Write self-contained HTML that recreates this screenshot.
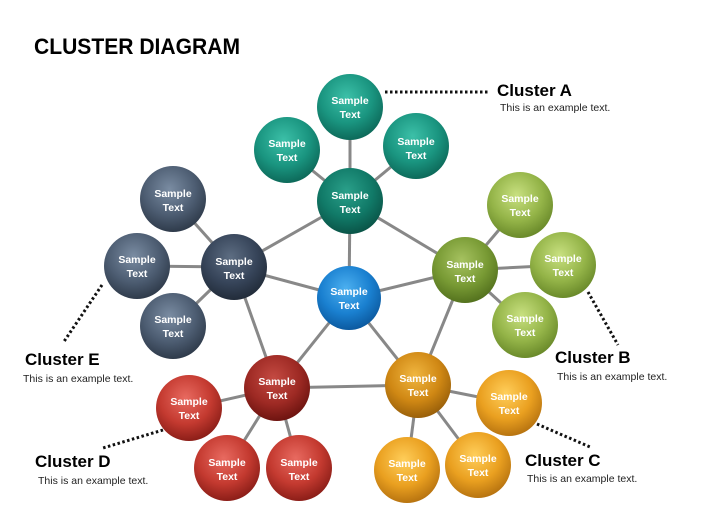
<!DOCTYPE html>
<html><head><meta charset="utf-8"><style>
html,body{margin:0;padding:0;background:#fff;}
svg{display:block;}
.n{font-family:"Liberation Sans",sans-serif;font-weight:bold;font-size:10.5px;fill:#fff;text-anchor:middle;}
.h{font-family:"Liberation Sans",sans-serif;font-weight:bold;font-size:17px;fill:#000;}
.s{font-family:"Liberation Sans",sans-serif;font-size:10.5px;fill:#222;}
</style></head><body>
<svg width="703" height="527" viewBox="0 0 703 527" xmlns="http://www.w3.org/2000/svg">
<defs>
<radialGradient id="gt" cx="45%" cy="35%" r="65%"><stop offset="0" stop-color="#3cc0a8"/><stop offset="0.6" stop-color="#1a9580"/><stop offset="1" stop-color="#0d6a5a"/></radialGradient>
<radialGradient id="gtd" cx="45%" cy="35%" r="65%"><stop offset="0" stop-color="#2aa08a"/><stop offset="0.6" stop-color="#117a68"/><stop offset="1" stop-color="#0a5548"/></radialGradient>
<radialGradient id="gs" cx="45%" cy="35%" r="65%"><stop offset="0" stop-color="#7a8ca2"/><stop offset="0.6" stop-color="#4d5d72"/><stop offset="1" stop-color="#2f3b4b"/></radialGradient>
<radialGradient id="gsd" cx="45%" cy="35%" r="65%"><stop offset="0" stop-color="#5d6d82"/><stop offset="0.6" stop-color="#37455a"/><stop offset="1" stop-color="#222c3a"/></radialGradient>
<radialGradient id="gg" cx="45%" cy="35%" r="65%"><stop offset="0" stop-color="#c8e080"/><stop offset="0.6" stop-color="#94b448"/><stop offset="1" stop-color="#6a8a2a"/></radialGradient>
<radialGradient id="ggd" cx="45%" cy="35%" r="65%"><stop offset="0" stop-color="#a6c260"/><stop offset="0.6" stop-color="#789a34"/><stop offset="1" stop-color="#54721e"/></radialGradient>
<radialGradient id="go" cx="45%" cy="35%" r="65%"><stop offset="0" stop-color="#ffce5a"/><stop offset="0.6" stop-color="#eaa020"/><stop offset="1" stop-color="#b87410"/></radialGradient>
<radialGradient id="god" cx="45%" cy="35%" r="65%"><stop offset="0" stop-color="#f0b640"/><stop offset="0.6" stop-color="#d08814"/><stop offset="1" stop-color="#9a600a"/></radialGradient>
<radialGradient id="gr" cx="45%" cy="35%" r="65%"><stop offset="0" stop-color="#e86a60"/><stop offset="0.6" stop-color="#c43a30"/><stop offset="1" stop-color="#8c1e18"/></radialGradient>
<radialGradient id="grd" cx="45%" cy="35%" r="65%"><stop offset="0" stop-color="#c44a42"/><stop offset="0.6" stop-color="#9e2a24"/><stop offset="1" stop-color="#6e1410"/></radialGradient>
<radialGradient id="gb" cx="45%" cy="35%" r="65%"><stop offset="0" stop-color="#4cb0f0"/><stop offset="0.6" stop-color="#1a80d0"/><stop offset="1" stop-color="#0c5aa0"/></radialGradient>
</defs>
<text x="34" y="54" font-family="Liberation Sans,sans-serif" font-weight="bold" font-size="22" textLength="206" lengthAdjust="spacingAndGlyphs">CLUSTER DIAGRAM</text>
<g stroke="#888" stroke-width="3" fill="none">
<polyline points="350,201 465,270 418,385 277,388 234,267 350,201"/>
<line x1="349" y1="298" x2="350" y2="201"/><line x1="349" y1="298" x2="465" y2="270"/><line x1="349" y1="298" x2="418" y2="385"/><line x1="349" y1="298" x2="277" y2="388"/><line x1="349" y1="298" x2="234" y2="267"/>
<line x1="350" y1="201" x2="350" y2="107"/><line x1="350" y1="201" x2="287" y2="150"/><line x1="350" y1="201" x2="416" y2="146"/>
<line x1="234" y1="267" x2="173" y2="199"/><line x1="234" y1="267" x2="137" y2="266"/><line x1="234" y1="267" x2="173" y2="326"/>
<line x1="465" y1="270" x2="520" y2="205"/><line x1="465" y1="270" x2="563" y2="265"/><line x1="465" y1="270" x2="525" y2="325"/>
<line x1="418" y1="385" x2="509" y2="403"/><line x1="418" y1="385" x2="478" y2="465"/><line x1="418" y1="385" x2="407" y2="470"/>
<line x1="277" y1="388" x2="189" y2="408"/><line x1="277" y1="388" x2="227" y2="468"/><line x1="277" y1="388" x2="299" y2="468"/>
</g>
<g stroke="#111" stroke-width="3" stroke-dasharray="2.5,2.5" fill="none">
<line x1="385" y1="92" x2="490" y2="92"/>
<line x1="102" y1="285" x2="63" y2="343"/>
<line x1="588" y1="292" x2="618" y2="345"/>
<line x1="537" y1="424" x2="590" y2="447"/>
<line x1="163" y1="430" x2="103" y2="448"/>
</g>
<g>
<circle cx="350" cy="107" r="33" fill="url(#gt)"/><circle cx="287" cy="150" r="33" fill="url(#gt)"/><circle cx="416" cy="146" r="33" fill="url(#gt)"/><circle cx="350" cy="201" r="33" fill="url(#gtd)"/>
<circle cx="173" cy="199" r="33" fill="url(#gs)"/><circle cx="137" cy="266" r="33" fill="url(#gs)"/><circle cx="173" cy="326" r="33" fill="url(#gs)"/><circle cx="234" cy="267" r="33" fill="url(#gsd)"/>
<circle cx="520" cy="205" r="33" fill="url(#gg)"/><circle cx="563" cy="265" r="33" fill="url(#gg)"/><circle cx="525" cy="325" r="33" fill="url(#gg)"/><circle cx="465" cy="270" r="33" fill="url(#ggd)"/>
<circle cx="509" cy="403" r="33" fill="url(#go)"/><circle cx="478" cy="465" r="33" fill="url(#go)"/><circle cx="407" cy="470" r="33" fill="url(#go)"/><circle cx="418" cy="385" r="33" fill="url(#god)"/>
<circle cx="189" cy="408" r="33" fill="url(#gr)"/><circle cx="227" cy="468" r="33" fill="url(#gr)"/><circle cx="299" cy="468" r="33" fill="url(#gr)"/><circle cx="277" cy="388" r="33" fill="url(#grd)"/>
<circle cx="349" cy="298" r="32" fill="url(#gb)"/>
</g>
<g class="n">
<text x="350" y="104">Sample</text><text x="350" y="118">Text</text>
<text x="287" y="147">Sample</text><text x="287" y="161">Text</text>
<text x="416" y="145">Sample</text><text x="416" y="159">Text</text>
<text x="350" y="199">Sample</text><text x="350" y="213">Text</text>
<text x="173" y="197">Sample</text><text x="173" y="211">Text</text>
<text x="137" y="263">Sample</text><text x="137" y="277">Text</text>
<text x="173" y="323">Sample</text><text x="173" y="337">Text</text>
<text x="234" y="265">Sample</text><text x="234" y="279">Text</text>
<text x="520" y="202">Sample</text><text x="520" y="216">Text</text>
<text x="563" y="262">Sample</text><text x="563" y="276">Text</text>
<text x="525" y="322">Sample</text><text x="525" y="336">Text</text>
<text x="465" y="268">Sample</text><text x="465" y="282">Text</text>
<text x="509" y="400">Sample</text><text x="509" y="414">Text</text>
<text x="478" y="462">Sample</text><text x="478" y="476">Text</text>
<text x="407" y="467">Sample</text><text x="407" y="481">Text</text>
<text x="418" y="382">Sample</text><text x="418" y="396">Text</text>
<text x="189" y="405">Sample</text><text x="189" y="419">Text</text>
<text x="227" y="466">Sample</text><text x="227" y="480">Text</text>
<text x="299" y="466">Sample</text><text x="299" y="480">Text</text>
<text x="277" y="385">Sample</text><text x="277" y="399">Text</text>
<text x="349" y="295">Sample</text><text x="349" y="309">Text</text>
</g>
<text class="h" x="497" y="96">Cluster  A</text><text class="s" x="500" y="111">This is an example text.</text>
<text class="h" x="25" y="365">Cluster  E</text><text class="s" x="23" y="382">This is an example text.</text>
<text class="h" x="555" y="363">Cluster  B</text><text class="s" x="557" y="380">This is an example text.</text>
<text class="h" x="525" y="466">Cluster  C</text><text class="s" x="527" y="482">This is an example text.</text>
<text class="h" x="35" y="467">Cluster  D</text><text class="s" x="38" y="484">This is an example text.</text>
</svg>
</body></html>
